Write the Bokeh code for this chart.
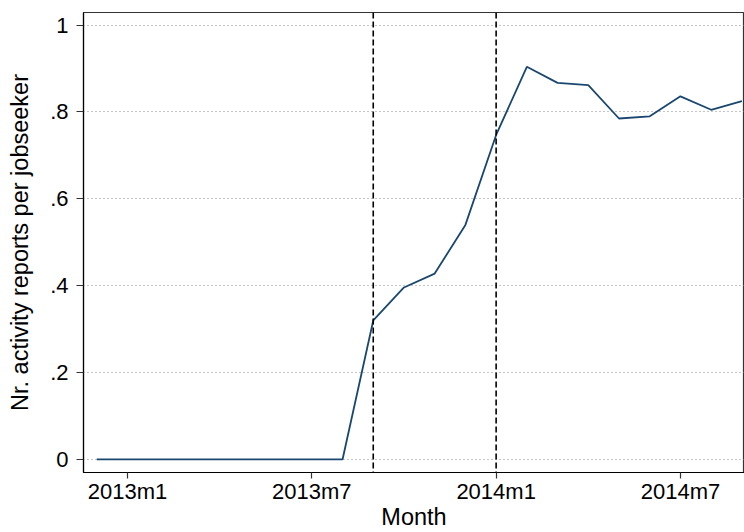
from bokeh.plotting import figure
from bokeh.models import FixedTicker, Span, Range1d
from bokeh.embed import file_html
from bokeh.resources import INLINE

# ---- data ----
months = ["2012m12", "2013m1", "2013m2", "2013m3", "2013m4", "2013m5", "2013m6",
          "2013m7", "2013m8", "2013m9", "2013m10", "2013m11", "2013m12",
          "2014m1", "2014m2", "2014m3", "2014m4", "2014m5", "2014m6",
          "2014m7", "2014m8", "2014m9"]
reports = [0, 0, 0, 0, 0, 0, 0, 0, 0,
           0.320, 0.396, 0.428, 0.540,
           0.747, 0.904, 0.867, 0.862, 0.785, 0.790,
           0.836, 0.805, 0.825]
x_tick_labels = ["2013m1", "2013m7", "2014m1", "2014m7"]
y_ticks = [0, 0.2, 0.4, 0.6, 0.8, 1.0]
y_tick_labels = ["0", ".2", ".4", ".6", ".8", "1"]
event_months = ["2013m9", "2014m1"]


def month_index(s):
    y, m = s.split("m")
    return (int(y) - 2013) * 12 + (int(m) - 1)


x = [month_index(m) for m in months]

FONT = "Liberation Sans"

p = figure(width=744, height=532, output_backend="svg", toolbar_location=None,
           x_range=Range1d(-1.432, 20.085), y_range=Range1d(-0.030, 1.029),
           min_border_left=83, min_border_right=0, min_border_top=12,
           min_border_bottom=0)

p.line(x, reports, line_color="#1a476f", line_width=1.8)

for em in event_months:
    p.add_layout(Span(location=month_index(em), dimension="height",
                      line_color="black", line_width=1.6, line_dash="6 3"))

# grid
p.xgrid.visible = False
p.ygrid.ticker = FixedTicker(ticks=y_ticks)
p.ygrid.grid_line_color = "#8c8c8c"
p.ygrid.grid_line_dash = "1 3"
p.ygrid.grid_line_width = 1

# axes
xt = [month_index(t) for t in x_tick_labels]
p.xaxis.ticker = FixedTicker(ticks=xt)
p.xaxis.major_label_overrides = {v: t for v, t in zip(xt, x_tick_labels)}
p.yaxis.ticker = FixedTicker(ticks=y_ticks)
p.yaxis.major_label_overrides = {v: t for v, t in zip(y_ticks, y_tick_labels)}

p.xaxis.axis_label = "Month"
p.yaxis.axis_label = "Nr. activity reports per jobseeker"

for ax in (p.xaxis[0], p.yaxis[0]):
    ax.minor_tick_line_color = None
    ax.major_tick_in = 0
    ax.axis_line_color = "black"
    ax.axis_line_width = 1.2
    ax.major_tick_line_color = "#333333"
    ax.major_tick_line_width = 1.2
    ax.major_label_text_font = FONT
    ax.major_label_text_font_size = "22px"
    ax.major_label_text_color = "black"
    ax.axis_label_text_font = FONT
    ax.axis_label_text_font_size = "23.5px"
    ax.axis_label_text_font_style = "normal"
    ax.axis_label_text_color = "black"

p.xaxis.major_tick_out = 6
p.yaxis.major_tick_out = 7
p.xaxis.major_label_standoff = 0
p.yaxis.major_label_standoff = 8
p.xaxis.axis_label_standoff = -3
p.yaxis.axis_label_standoff = 14
p.yaxis.major_label_orientation = "horizontal"

p.outline_line_color = "#333333"
p.outline_line_width = 1.2
p.background_fill_color = "white"
p.border_fill_color = "white"

open("out.html", "w").write(file_html(p, INLINE))
